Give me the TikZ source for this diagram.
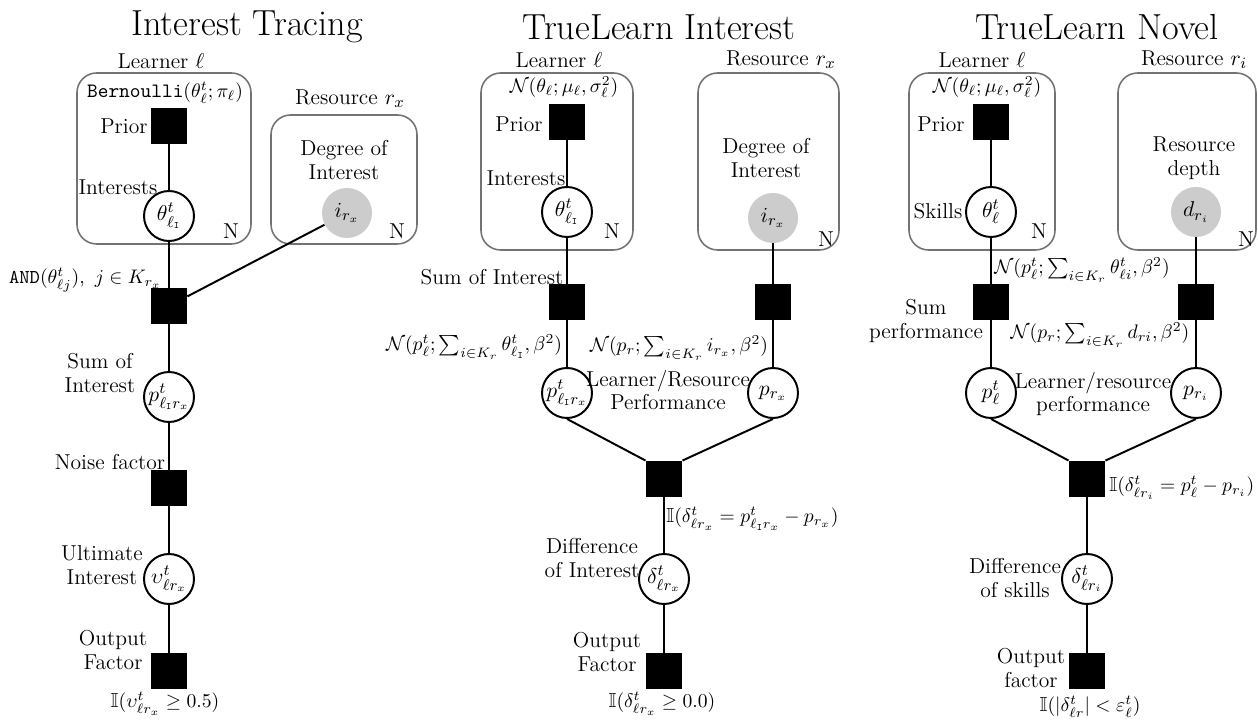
\documentclass[tikz,border=0pt]{standalone}
\usepackage{amsmath}
\usepackage{amssymb}

\begin{document}
\begin{tikzpicture}[x=0.51pt, y=-0.51pt,
      every node/.style={font=\fontsize{11}{12}\selectfont},
      factor/.style={rectangle, fill=black, minimum size=18.4pt, inner sep=0pt},
      latent/.style={circle, draw, line width=1pt, fill=white, minimum size=25.5pt, inner sep=0pt},
      observed/.style={circle, fill=black!20, minimum size=25.5pt, inner sep=0pt},
      plate/.style={draw=black!55, line width=0.8pt, rounded corners=10pt},
      titletext/.style={font=\fontsize{18.5}{22}\selectfont},
      txt/.style={align=center, inner sep=0pt},
      formula/.style={inner sep=0pt, font=\fontsize{10.4}{12}\selectfont},
      edge/.style={line width=1pt}]

    \useasboundingbox (0,0) rectangle (1258,720);

    \draw[plate] (77,73) rectangle (251,244);
    \draw[plate] (271,115) rectangle (417,244);
    \draw[plate] (481,73) rectangle (633,250);
    \draw[plate] (698,73) rectangle (839,250);
    \draw[plate] (909,73) rectangle (1055,250);
    \draw[plate] (1118,73) rectangle (1256,250);

    \node[titletext] (t1) at (247,27) {Interest Tracing};
    \node[titletext] (t2) at (659,27) {TrueLearn Interest};
    \node[titletext] (t3) at (1097,27) {TrueLearn Novel};

    \node[txt] (lrn1) at (161,61) {Learner $\ell$};
    \node[formula] (lrnp1) at (165,93) {\texttt{Bernoulli}$(\theta^t_\ell;\pi_\ell)$};
    \node[factor] (pri1) at (169,126) {};
    \node[txt] (lpri1) at (124,126) {Prior};
    \node[latent] (th1) at (169,216) {$\theta^t_{\ell_{\mathtt{I}}}$};
    \node[txt] (lth1) at (118,187) {Interests};
    \node[txt] (na1) at (231,231) {N};
    \node[txt] (res1) at (350,99) {Resource $r_x$};
    \node[txt] (lix1) at (344,160) {Degree of\\Interest};
    \node[observed] (ix1) at (347,213) {$i_{r_x}$};
    \node[txt] (nb1) at (397,231) {N};
    \node[factor] (and1) at (169,306) {};
    \node[formula, anchor=east] (land1) at (162,280) {$\mathtt{AND}(\theta^t_{\ell j}),\ j\in K_{r_x}$};
    \node[latent] (p1) at (169,397) {$p^t_{\ell_{\mathtt{I}}r_x}$};
    \node[txt] (lp1) at (100,373) {Sum of\\Interest};
    \node[factor] (noise1) at (169,488) {};
    \node[txt] (lnoise1) at (110,462) {Noise factor};
    \node[latent] (u1) at (169,579) {$\upsilon^t_{\ell r_x}$};
    \node[txt] (lu1) at (102,565) {Ultimate\\Interest};
    \node[factor] (out1) at (169,671) {};
    \node[txt] (lout1) at (113,650) {Output\\Factor};
    \node[formula] (fout1) at (165,704) {$\mathbb{I}(\upsilon^t_{\ell r_x}\geq 0.5)$};

    \draw[edge] (pri1) -- (th1);
    \draw[edge] (th1) -- (and1);
    \draw[edge] (ix1) -- (and1);
    \draw[edge] (and1) -- (p1);
    \draw[edge] (p1) -- (noise1);
    \draw[edge] (noise1) -- (u1);
    \draw[edge] (u1) -- (out1);

    \node[txt] (lrn2) at (559,60) {Learner $\ell$};
    \node[formula] (lrnp2) at (564,87) {$\mathcal{N}(\theta_\ell;\mu_\ell,\sigma^2_\ell)$};
    \node[factor] (pri2) at (567,122) {};
    \node[txt] (lpri2) at (519,124) {Prior};
    \node[latent] (th2) at (567,212) {$\theta^t_{\ell_{\mathtt{I}}}$};
    \node[txt] (lth2) at (526,178) {Interests};
    \node[txt] (na2) at (612,231) {N};
    \node[txt] (res2) at (781,60) {Resource $r_x$};
    \node[txt] (lix2) at (766,158) {Degree of\\Interest};
    \node[observed] (ix2) at (773,218) {$i_{r_x}$};
    \node[txt] (nb2) at (826,239) {N};
    \node[factor] (sum2) at (567,302) {};
    \node[txt] (lsum2) at (492,277) {Sum of Interest};
    \node[factor] (sumr2) at (773,302) {};
    \node[formula] (fsum2) at (474,347) {$\mathcal{N}(p^t_\ell;\sum_{i\in K_r}\theta^t_{\ell_{\mathtt{I}}},\beta^2)$};
    \node[formula] (fsumr2) at (679,348) {$\mathcal{N}(p_r;\sum_{i\in K_r}i_{r_x},\beta^2)$};
    \node[latent] (pl2) at (567,393) {$p^t_{\ell_{\mathtt{I}}r_x}$};
    \node[latent] (pr2) at (773,393) {$p_{r_x}$};
    \node[txt] (lpp2) at (668,390) {Learner/Resource\\Performance};
    \node[factor] (jn2) at (664,479) {};
    \node[formula, anchor=west] (fjn2) at (666,519) {$\mathbb{I}(\delta^t_{\ell r_x}=p^t_{\ell_{\mathtt{I}}r_x}-p_{r_x})$};
    \node[latent] (d2) at (664,579) {$\delta^t_{\ell r_x}$};
    \node[txt] (ld2) at (592,558) {Difference\\of Interest};
    \node[factor] (out2) at (664,671) {};
    \node[txt] (lout2) at (607,652) {Output\\Factor};
    \node[formula] (fout2) at (662,704) {$\mathbb{I}(\delta^t_{\ell r_x}\geq 0.0)$};

    \draw[edge] (pri2) -- (th2);
    \draw[edge] (th2) -- (sum2);
    \draw[edge] (ix2) -- (sumr2);
    \draw[edge] (sum2) -- (pl2);
    \draw[edge] (sumr2) -- (pr2);
    \draw[edge] (pl2.south) -- (jn2.north west);
    \draw[edge] (pr2.south) -- (jn2.north east);
    \draw[edge] (jn2) -- (d2);
    \draw[edge] (d2) -- (out2);

    \node[txt] (lrn3) at (982,60) {Learner $\ell$};
    \node[formula] (lrnp3) at (987,87) {$\mathcal{N}(\theta_\ell;\mu_\ell,\sigma^2_\ell)$};
    \node[factor] (pri3) at (991,122) {};
    \node[txt] (lpri3) at (941,124) {Prior};
    \node[latent] (th3) at (991,212) {$\theta^t_\ell$};
    \node[txt] (lth3) at (938,211) {Skills};
    \node[txt] (na3) at (1039,231) {N};
    \node[txt] (res3) at (1194,60) {Resource $r_i$};
    \node[txt] (ldr3) at (1194,158) {Resource\\depth};
    \node[observed] (dr3) at (1196,212) {$d_{r_i}$};
    \node[txt] (nb3) at (1246,239) {N};
    \node[factor] (sum3) at (991,302) {};
    \node[formula, anchor=west] (fsum3) at (994,270) {$\mathcal{N}(p^t_\ell;\sum_{i\in K_r}\theta^t_{\ell i},\beta^2)$};
    \node[txt] (lsum3) at (926,321) {Sum\\performance};
    \node[factor] (sumr3) at (1196,302) {};
    \node[formula] (fsumr3) at (1100,335) {$\mathcal{N}(p_r;\sum_{i\in K_r}d_{ri},\beta^2)$};
    \node[latent] (pl3) at (991,393) {$p^t_\ell$};
    \node[latent] (pr3) at (1196,393) {$p_{r_i}$};
    \node[txt] (lpp3) at (1093,394) {Learner/resource\\performance};
    \node[factor] (jn3) at (1087,479) {};
    \node[formula, anchor=west] (fjn3) at (1109,488) {$\mathbb{I}(\delta^t_{\ell r_i}=p^t_\ell-p_{r_i})$};
    \node[latent] (d3) at (1087,579) {$\delta^t_{\ell r_i}$};
    \node[txt] (ld3) at (1015,578) {Difference\\of skills};
    \node[factor] (out3) at (1087,671) {};
    \node[txt] (lout3) at (1031,668) {Output\\factor};
    \node[formula] (fout3) at (1090,707) {$\mathbb{I}(|\delta^t_{\ell r}|<\varepsilon^t_\ell)$};

    \draw[edge] (pri3) -- (th3);
    \draw[edge] (th3) -- (sum3);
    \draw[edge] (dr3) -- (sumr3);
    \draw[edge] (sum3) -- (pl3);
    \draw[edge] (sumr3) -- (pr3);
    \draw[edge] (pl3.south) -- (jn3.north west);
    \draw[edge] (pr3.south) -- (jn3.north east);
    \draw[edge] (jn3) -- (d3);
    \draw[edge] (d3) -- (out3);

  \end{tikzpicture}
\end{document}
